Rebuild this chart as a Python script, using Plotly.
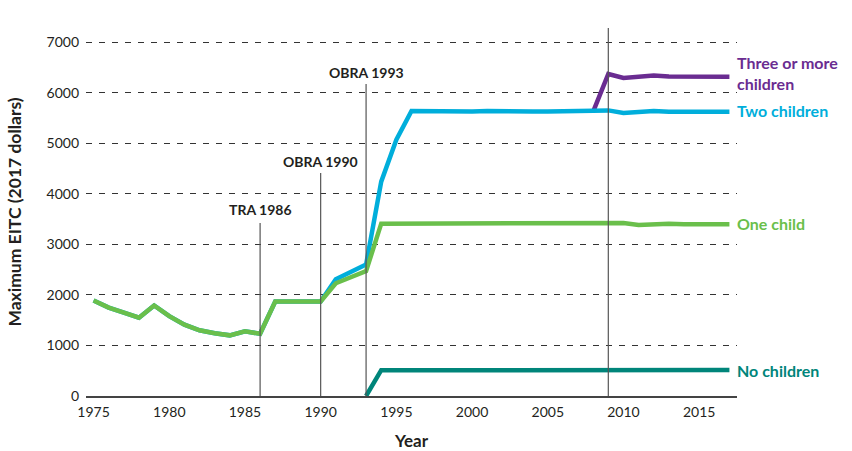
import plotly.graph_objects as go

years = list(range(1975, 2018))

one_child = [1890, 1750, 1650, 1550, 1790, 1580, 1410, 1300, 1240, 1200, 1280, 1230,
             1870, 1870, 1870, 1870, 2230, 2350, 2470, 3410, 3410, 3410, 3405, 3405,
             3405, 3405, 3410, 3405, 3405, 3405, 3405, 3405, 3410, 3410, 3405, 3420,
             3385, 3400, 3410, 3400, 3400, 3395, 3400]

two_children = [1890, 1750, 1650, 1550, 1790, 1580, 1410, 1300, 1240, 1200, 1280, 1230,
                1870, 1870, 1870, 1870, 2310, 2460, 2600, 4240, 5070, 5640, 5635, 5630,
                5630, 5630, 5640, 5630, 5625, 5630, 5630, 5635, 5640, 5635, 5650, 5600,
                5630, 5640, 5625, 5625, 5630, 5620, 5625]

three_years = [2008, 2009, 2010, 2011, 2012, 2013, 2014, 2015, 2016, 2017]
three_children = [5625, 6370, 6290, 6320, 6340, 6320, 6320, 6320, 6310, 6315]

no_years = list(range(1993, 2018))
no_children = [0, 510, 510, 510, 510, 510, 510, 510, 510, 510, 512, 512, 512, 512,
               512, 512, 515, 510, 510, 512, 512, 512, 512, 512, 512]

events = ["TRA 1986", "OBRA 1990", "OBRA 1993", "ARRA 2009"]
event_years = [1986, 1990, 1993, 2009]
event_tops = [3420, 4410, 6170, 7280]
event_label_y = [3680, 4630, 6400, 7530]

series_labels = ["Three or more<br>children", "Two children", "One child", "No children"]
series_label_y = [6380, 5650, 3420, 500]

c_three = "#6a2c91"
c_two = "#00aedb"
c_one = "#6abf4b"
c_no = "#00857a"
series_colors = [c_three, c_two, c_one, c_no]

FONT = "Lato"

fig = go.Figure()
lw = 4.5
fig.add_trace(go.Scatter(x=no_years, y=no_children, mode="lines",
                         line=dict(color=c_no, width=lw), hoverinfo="skip"))
fig.add_trace(go.Scatter(x=three_years, y=three_children, mode="lines",
                         line=dict(color=c_three, width=lw), hoverinfo="skip"))
fig.add_trace(go.Scatter(x=years, y=two_children, mode="lines",
                         line=dict(color=c_two, width=lw), hoverinfo="skip"))
fig.add_trace(go.Scatter(x=years, y=one_child, mode="lines",
                         line=dict(color=c_one, width=lw), hoverinfo="skip"))

for name, yr, top, ly in zip(events, event_years, event_tops, event_label_y):
    fig.add_shape(type="line", x0=yr, x1=yr, y0=0, y1=top, xref="x", yref="y",
                  line=dict(color="#555555", width=1.2), layer="above")
    fig.add_annotation(x=yr, y=ly, text="<b>" + name + "</b>", showarrow=False,
                       xanchor="center", yanchor="middle",
                       font=dict(family=FONT, size=14, color="#231f20"))

for txt, ly, col in zip(series_labels, series_label_y, series_colors):
    fig.add_annotation(x=2017, y=ly, text="<b>" + txt + "</b>", showarrow=False,
                       xanchor="left", yanchor="middle", xshift=6, align="left",
                       font=dict(family=FONT, size=16, color=col))

fig.update_layout(
    width=852, height=451,
    margin=dict(l=86, r=115, t=28, b=55, autoexpand=False),
    plot_bgcolor="white", paper_bgcolor="white",
    showlegend=False,
    font=dict(family=FONT, color="#231f20"),
    xaxis=dict(range=[1974.5, 2017.5], tick0=1975, dtick=5, showgrid=False,
               showline=True, linecolor="#444444", linewidth=1.5, zeroline=False,
               ticks="", automargin=False, ticklabelstandoff=2,
               tickfont=dict(size=14, color="#231f20"),
               title=dict(text="<b>Year</b>", font=dict(size=17, color="#231f20"),
                          standoff=20)),
    yaxis=dict(range=[0, 7280], tickvals=[0, 1000, 2000, 3000, 4000, 5000, 6000, 7000],
               showgrid=True, gridcolor="#333333", gridwidth=1, griddash="6px,7px",
               zeroline=False, showline=False, ticks="", automargin=False,
               ticklabelstandoff=6,
               tickfont=dict(size=14, color="#231f20"),
               title=dict(text="<b>Maximum EITC (2017 dollars)</b>",
                          font=dict(size=17.5, color="#231f20"), standoff=20)),
)

fig.write_html("out.html", config={"displayModeBar": False},
               post_script="document.body.style.margin='0';document.body.style.overflow='hidden';")
